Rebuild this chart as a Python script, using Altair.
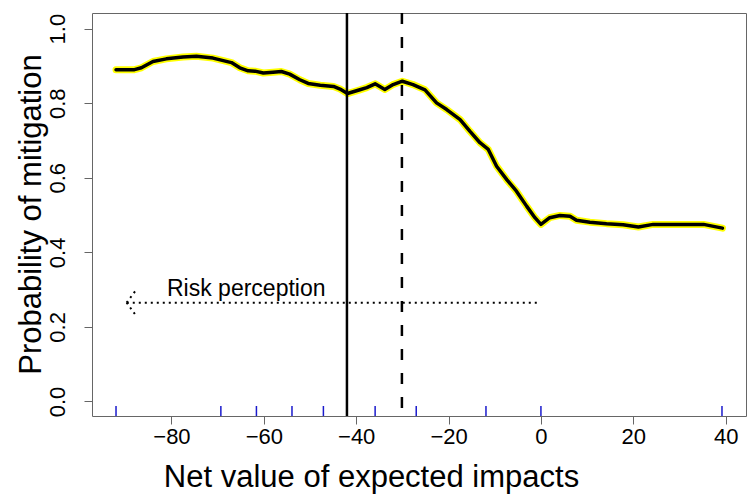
import altair as alt
import pandas as pd

# ---- data ----
curve_x = [-92.0, -88.0, -86.5, -84.0, -81.1, -77.5, -74.6, -71.0, -67.0, -65.2,
           -63.4, -61.9, -60.1, -58.0, -56.2, -54.4, -52.2, -50.4, -47.8, -44.9,
           -43.5, -41.9, -39.2, -37.7, -35.9, -33.8, -32.0, -30.0, -27.7, -25.1,
           -22.6, -20.4, -17.5, -15.4, -13.2, -11.4, -9.6, -7.4, -5.3, -3.1,
           -1.3, 0.0, 1.9, 4.1, 6.3, 7.7, 10.6, 14.2, 17.8, 21.1,
           24.3, 28.7, 35.2, 39.3]
curve_y = [0.890, 0.890, 0.895, 0.912, 0.919, 0.924, 0.926, 0.921, 0.909, 0.895,
           0.887, 0.886, 0.881, 0.883, 0.885, 0.878, 0.863, 0.853, 0.848, 0.845,
           0.838, 0.826, 0.836, 0.842, 0.852, 0.837, 0.850, 0.859, 0.850, 0.836,
           0.801, 0.783, 0.756, 0.725, 0.694, 0.676, 0.631, 0.595, 0.564, 0.524,
           0.493, 0.475, 0.493, 0.499, 0.497, 0.486, 0.481, 0.477, 0.474, 0.468,
           0.475, 0.475, 0.475, 0.465]
rug_x = [-92.0, -69.3, -61.6, -53.9, -47.1, -35.9, -27.0, -11.9, 0.0, 39.2]
solid_line_x = [-42.0]
dashed_line_x = [-30.1]
x_ticks = [-80, -60, -40, -20, 0, 20, 40]
y_ticks = [0.0, 0.2, 0.4, 0.6, 0.8, 1.0]
x_domain = [-97.2, 44.4]
y_domain = [-0.039, 1.042]

arrow_start_x = [-0.9]
arrow_tip_x = [-89.7]
arrow_level = [0.265]
head_back_x = [-87.6, -87.6]
head_back_y = [0.300, 0.229]
label_text = ["Risk perception"]
label_x = [-63.8]
label_y = [0.284]

x_title = "Net value of expected impacts"
y_title = "Probability of mitigation"

W, H = 654, 403
FONT = "Liberation Sans"

xs = alt.Scale(domain=x_domain, nice=False, zero=False)
ys = alt.Scale(domain=y_domain, nice=False, zero=False)

curve_df = pd.DataFrame({"x": curve_x, "y": curve_y})

x_axis = alt.Axis(values=x_ticks, format="d", title=x_title, domain=False, grid=False,
                  tickSize=8, tickColor="#666666", tickWidth=1,
                  labelFont=FONT, labelFontSize=22, labelPadding=2, labelColor="black",
                  labelOverlap=False, labelFlush=False,
                  titleFont=FONT, titleFontSize=31, titleFontWeight="normal", titleColor="black",
                  titleX=279, titleY=70, titleAlign="center", titleBaseline="alphabetic")
y_axis = alt.Axis(values=y_ticks, format=".1f", title=y_title, domain=False, grid=False,
                  tickSize=8, tickColor="#666666", tickWidth=1,
                  labelFont=FONT, labelFontSize=22, labelPadding=20, labelColor="black",
                  labelAngle=270, labelAlign="center", labelBaseline="alphabetic",
                  labelOverlap=False, labelFlush=False,
                  titleFont=FONT, titleFontSize=31, titleFontWeight="normal", titleColor="black",
                  titleAngle=270, titleX=-52, titleY=201, titleAlign="center",
                  titleBaseline="alphabetic")

X = lambda f="x:Q": alt.X(f, scale=xs, axis=x_axis)
Y = lambda f="y:Q": alt.Y(f, scale=ys, axis=y_axis)

outline = alt.Chart(curve_df).mark_line(color="#FFFF00", strokeWidth=7, strokeJoin="round",
                                        strokeCap="round").encode(x=X(), y=Y())
core = alt.Chart(curve_df).mark_line(color="black", strokeWidth=3.5, strokeJoin="round",
                                     strokeCap="round").encode(x=X(), y=Y())

rug = alt.Chart(pd.DataFrame({"x": rug_x})).mark_rule(color="#1a1acc", strokeWidth=1.5).encode(
    x=X(), y=alt.value(H - 10), y2=alt.value(H),
)

solid = alt.Chart(pd.DataFrame({"x": solid_line_x})).mark_rule(color="black", strokeWidth=2.5).encode(
    x=X(),
)
dashed = alt.Chart(pd.DataFrame({"x": dashed_line_x})).mark_rule(
    color="black", strokeWidth=2.5, strokeDash=[11, 13]).encode(x=X())

seg_df = pd.DataFrame({
    "x": arrow_start_x + arrow_tip_x + arrow_tip_x,
    "y": arrow_level + arrow_level + arrow_level,
    "x2": arrow_tip_x + head_back_x,
    "y2": arrow_level + head_back_y,
})
arrow = alt.Chart(seg_df).mark_rule(color="black", strokeWidth=2, strokeDash=[2, 4]).encode(
    x=X(), y=Y(), x2="x2:Q", y2="y2:Q",
)

label = alt.Chart(pd.DataFrame({"x": label_x, "y": label_y, "t": label_text})).mark_text(
    font=FONT, fontSize=23, color="black", align="center", baseline="alphabetic").encode(
    x=X(), y=Y(), text="t:N",
)

chart = alt.layer(outline, core, rug, solid, dashed, arrow, label).properties(
    width=W, height=H,
    padding={"left": 92, "top": 13, "right": 1, "bottom": 79},
    autosize=alt.AutoSizeParams(type="none"),
    background="white",
).configure_view(stroke="#666666", strokeWidth=1)

chart.save("out.html", embed_options={"renderer": "svg", "actions": False})
